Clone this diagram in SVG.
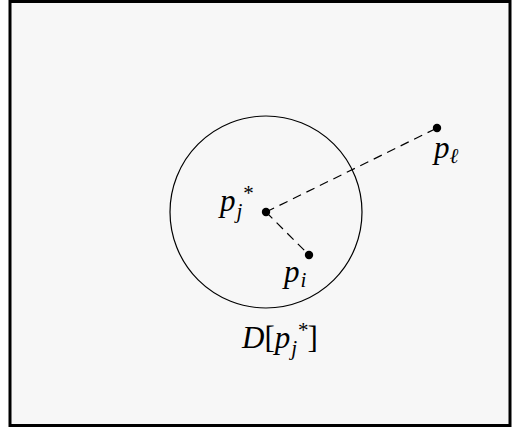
<svg xmlns="http://www.w3.org/2000/svg" width="513" height="428" viewBox="0 0 513 428">
<style>
.m{font-family:"Liberation Serif","DejaVu Serif",serif;font-style:italic;font-size:31px;fill:#000}
.r{font-style:normal}
.s{font-size:21px}
.dash{stroke:#000;stroke-width:1.2;stroke-dasharray:9,6;fill:none}
</style>
<rect x="10" y="1.5" width="500" height="424" fill="#f7f7f7" stroke="#000" stroke-width="3"/>
<g id="disk">
<circle cx="266" cy="212" r="96" fill="none" stroke="#000" stroke-width="1.2"/>
<text class="m" x="242" y="348">D<tspan class="r">[</tspan>p<tspan class="s" dx="1" dy="7">j</tspan><tspan class="s" dx="0" dy="-18">*</tspan><tspan class="r" dy="11" dx="0">]</tspan></text>
</g>
<g id="connectors">
<line class="dash" x1="266" y1="212" x2="437" y2="128"/>
<line class="dash" x1="266" y1="212" x2="309" y2="255"/>
</g>
<g id="pj">
<circle cx="266" cy="212" r="4.2" fill="#000"/>
<text class="m" x="220" y="211">p<tspan class="s" dx="1" dy="7">j</tspan><tspan class="s" dx="0" dy="-18">*</tspan></text>
</g>
<g id="pi">
<circle cx="309" cy="255" r="4.2" fill="#000"/>
<text class="m" x="284" y="282">p<tspan class="s" dx="1" dy="5">i</tspan></text>
</g>
<g id="pl">
<circle cx="437" cy="128" r="4.2" fill="#000"/>
<text class="m" x="434" y="158">p<tspan class="s" dx="0" dy="5">ℓ</tspan></text>
</g>
</svg>
